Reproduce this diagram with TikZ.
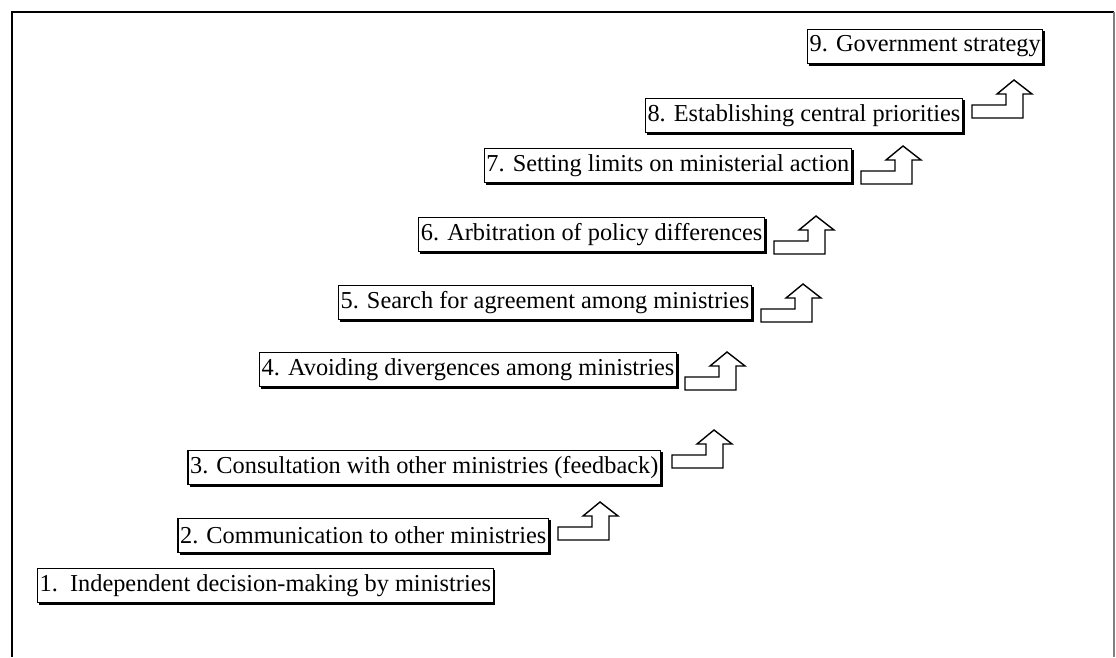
\documentclass[tikz,border=0pt]{standalone}
\usepackage{fontspec}
\setmainfont{Liberation Serif}

\tikzset{
  stepbox/.style={draw,line width=0.8pt,fill=white,anchor=north east,
    minimum height=0.85cm,inner xsep=1.5pt,inner ysep=0pt,
    font=\fontsize{17.3}{20}\selectfont},
  shadowline/.style={line width=1.3pt},
  uparrow/.pic={
    \draw[line width=1pt,fill=white] (0,0) -- (51,0) -- (51,-24) -- (60,-24) -- (42,-38)
      -- (25,-24) -- (34,-24) -- (34,-13) -- (0,-13) -- cycle;
  }
}

\begin{document}
\begin{tikzpicture}[x=0.025cm,y=-0.025cm]
			\useasboundingbox (0,0) rectangle (1116,657);
			% frame
			\draw[line width=1.4pt] (12,657) -- (12,12) -- (1114,12);
			\draw[gray,line width=0.8pt] (1114,12) -- (1114,657);
			% steps
			\node[stepbox,anchor=north west] (s1) at (37,568) {1.\ \ Independent decision-making by ministries};
			\node[stepbox] (s2) at (549,518) {2. Communication to other ministries};
			\node[stepbox] (s3) at (661,450) {3. Consultation with other ministries (feedback)};
			\node[stepbox] (s4) at (677,352) {4. Avoiding divergences among ministries};
			\node[stepbox] (s5) at (752,285) {5. Search for agreement among ministries};
			\node[stepbox] (s6) at (765,217) {6. Arbitration of policy differences};
			\node[stepbox] (s7) at (852,148) {7. Setting limits on ministerial action};
			\node[stepbox] (s8) at (963,98) {8. Establishing central priorities};
			\node[stepbox,anchor=north west] (s9) at (807,29) {9. Government strategy};
			\foreach \n in {s1,s2,s3,s4,s5,s6,s7,s8,s9}
				\draw[shadowline] ([xshift=1.5pt,yshift=-0.6pt]\n.south west) -- ([xshift=0.6pt,yshift=-0.6pt]\n.south east) -- ([xshift=0.6pt,yshift=-1.5pt]\n.north east);
			% arrows
			\pic at (558,540) {uparrow};
			\pic at (672,468) {uparrow};
			\pic at (685,390) {uparrow};
			\pic at (761,322) {uparrow};
			\pic at (774,254) {uparrow};
			\pic at (861,184) {uparrow};
			\pic at (972,118) {uparrow};
		\end{tikzpicture}
\end{document}
